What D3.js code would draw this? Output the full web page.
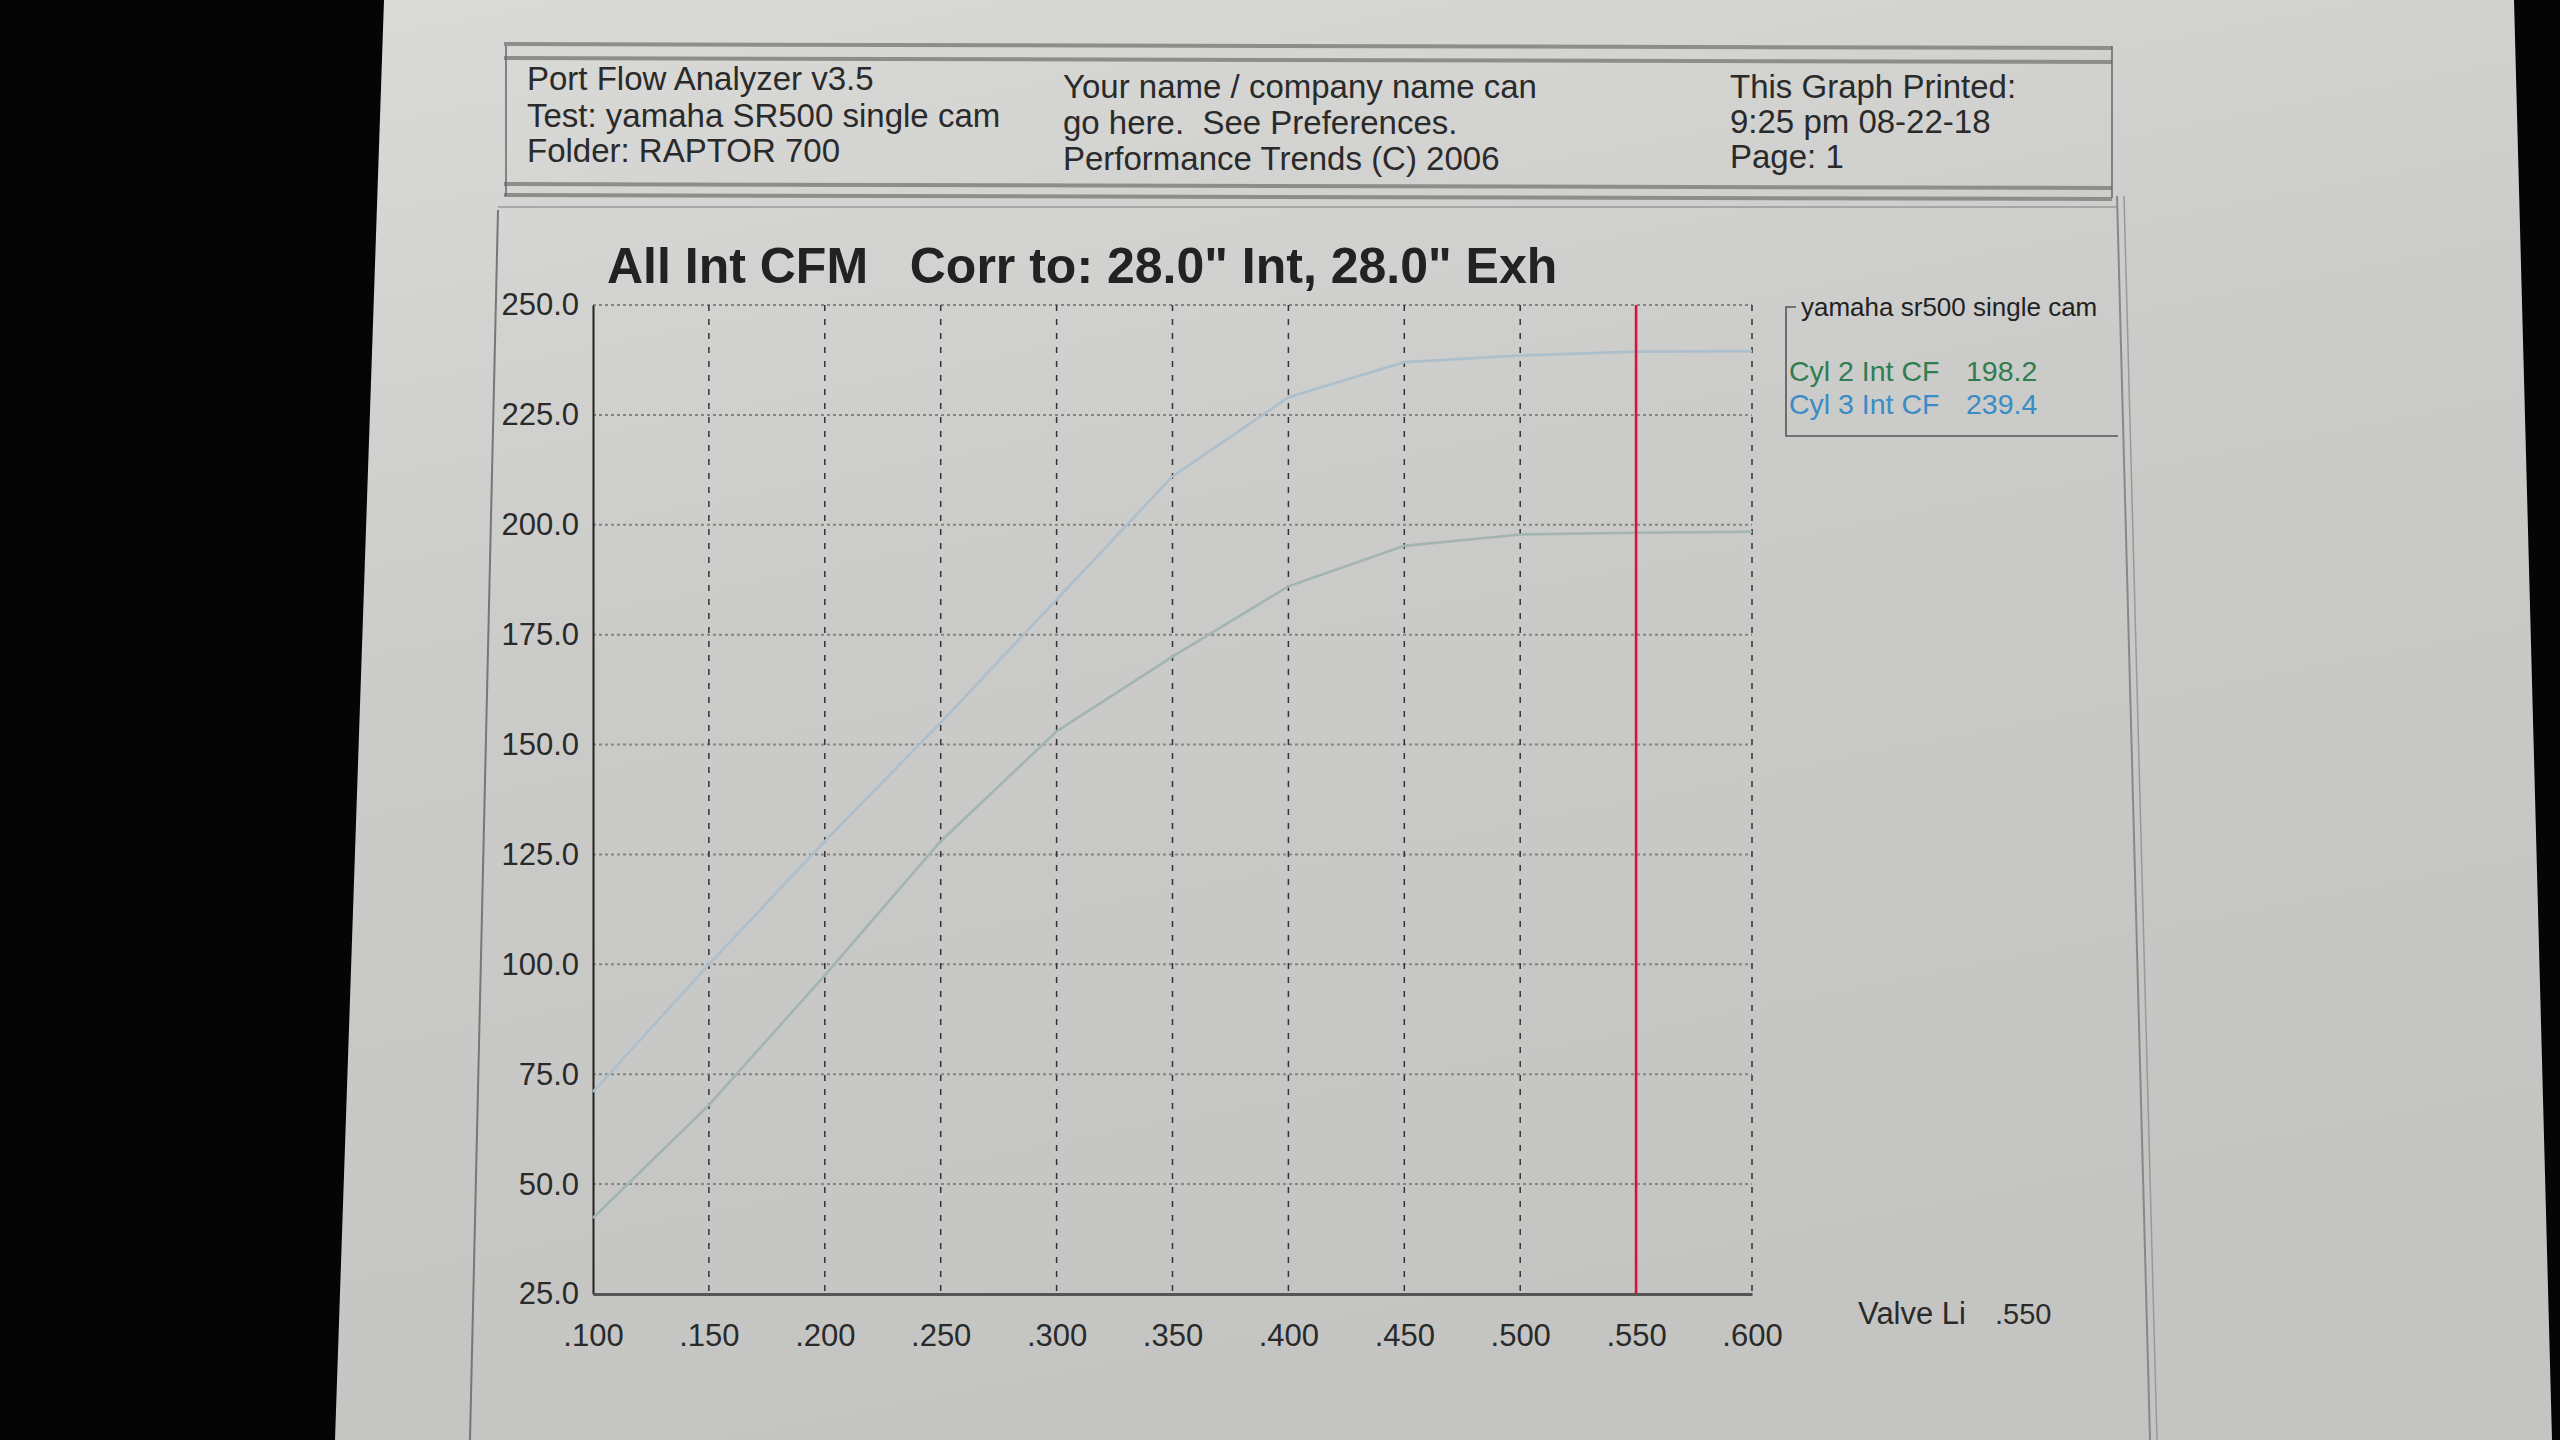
<!DOCTYPE html>
<html><head><meta charset="utf-8">
<script src="https://cdn.jsdelivr.net/npm/d3@7"></script>
<style>html,body{margin:0;padding:0;background:#000;}svg{display:block;}text{white-space:pre;}</style>
</head><body>
<script>
// ---- data ----
const liftValues = [0.100,0.150,0.200,0.250,0.300,0.350,0.400,0.450,0.500,0.550,0.600];
const cyl2Flow   = [42.3, 68.0, 97.5, 128.0, 153.0, 170.0, 186.0, 195.2, 197.8, 198.2, 198.4];
const cyl3Flow   = [71.0, 100.0, 128.0, 155.0, 183.0, 211.0, 229.0, 237.0, 238.5, 239.4, 239.5];
const yTickValues = [25,50,75,100,125,150,175,200,225,250];
const xTickValues = [0.100,0.150,0.200,0.250,0.300,0.350,0.400,0.450,0.500,0.550,0.600];
const seriesNames = ["Cyl 2 Int CF","Cyl 3 Int CF"];
const seriesValuesAtLift = ["198.2","239.4"];
const markerLift = 0.550;
const headerLeft = ["Port Flow Analyzer v3.5","Test: yamaha SR500 single cam","Folder: RAPTOR 700"];
const headerMid = ["Your name / company name can","go here.  See Preferences.","Performance Trends (C) 2006"];
const headerRight = ["This Graph Printed:","9:25 pm 08-22-18","Page: 1"];
const chartTitle = "All Int CFM   Corr to: 28.0\" Int, 28.0\" Exh";
const legendTitle = "yamaha sr500 single cam";

// ---- drawing ----
const W=2560,H=1440;
const svg=d3.select("body").append("svg").attr("width",W).attr("height",H);
const defs=svg.append("defs");
const g1=defs.append("linearGradient").attr("id","paper").attr("x1","0").attr("y1","0").attr("x2","0.3").attr("y2","1");
g1.append("stop").attr("offset","0").attr("stop-color","#dadad8");
g1.append("stop").attr("offset","0.45").attr("stop-color","#cbcbc9");
g1.append("stop").attr("offset","1").attr("stop-color","#c4c4c2");
svg.append("rect").attr("width",W).attr("height",H).attr("fill","#050505");
svg.append("path").attr("d","M384,0 L2514,0 L2552,1440 L335,1440 Z").attr("fill","url(#paper)");

const font="'Liberation Sans', Arial, sans-serif";
const ink="#2a2a2a";

// header box
const hdr=svg.append("g");
[[44],[58],[184],[195]].forEach(([y])=>{
  hdr.append("line").attr("x1",504).attr("x2",2112).attr("y1",y).attr("y2",y+4)
    .attr("stroke","#8d8d8b").attr("stroke-width",4);
});
hdr.append("line").attr("x1",506).attr("x2",506).attr("y1",46).attr("y2",196).attr("stroke","#666").attr("stroke-width",1.5);
hdr.append("line").attr("x1",2112).attr("x2",2112).attr("y1",46).attr("y2",198).attr("stroke","#666").attr("stroke-width",1.5);
const hdrCols=[[headerLeft,527,[90,127,162]],[headerMid,1063,[98,134,170]],[headerRight,1730,[98,133,168]]];
hdrCols.forEach(([lines,x,ys])=>{
  lines.forEach((t,i)=>hdr.append("text").attr("x",x).attr("y",ys[i]).text(t)
    .attr("font-family",font).attr("font-size",33).attr("fill",ink));
});

// chart frame
svg.append("line").attr("x1",498).attr("x2",470).attr("y1",210).attr("y2",1440).attr("stroke","#777").attr("stroke-width",2);
svg.append("line").attr("x1",2117).attr("x2",2150).attr("y1",196).attr("y2",1440).attr("stroke","#888").attr("stroke-width",2);
svg.append("line").attr("x1",2124).attr("x2",2157).attr("y1",196).attr("y2",1440).attr("stroke","#999").attr("stroke-width",1.5);
svg.append("line").attr("x1",498).attr("x2",2117).attr("y1",207).attr("y2",207).attr("stroke","#999").attr("stroke-width",1.5);

// scales
const x=d3.scaleLinear().domain([0.100,0.600]).range([593,1752]);
const y=d3.scaleLinear().domain([25,250]).range([1294,305]);
const fmtX=d=>d3.format(".3f")(d).replace(/^0/,"");

// grid
const grid=svg.append("g");
grid.selectAll("line.h").data(yTickValues.slice(1)).join("line")
  .attr("x1",x(0.100)).attr("x2",x(0.600)).attr("y1",d=>y(d)).attr("y2",d=>y(d))
  .attr("stroke","#858583").attr("stroke-width",2).attr("stroke-dasharray","3,3");
grid.selectAll("line.v").data(xTickValues.slice(1)).join("line")
  .attr("x1",d=>x(d)).attr("x2",d=>x(d)).attr("y1",y(250)).attr("y2",y(25))
  .attr("stroke","#333").attr("stroke-width",1.5).attr("stroke-dasharray","6,8");

// axes
const yAxis=d3.axisLeft(y).tickValues(yTickValues).tickSize(0).tickPadding(14).tickFormat(d3.format(".1f"));
const ya=svg.append("g").attr("transform",`translate(${x(0.100)},0)`).call(yAxis);
ya.select(".domain").attr("stroke","#222").attr("stroke-width",2);
ya.selectAll("text").attr("font-family",font).attr("font-size",31).attr("fill",ink);
const xAxis=d3.axisBottom(x).tickValues(xTickValues).tickSize(0).tickPadding(30).tickFormat(fmtX);
const xa=svg.append("g").attr("transform",`translate(0,${y(25)})`).call(xAxis);
xa.select(".domain").attr("stroke","#555").attr("stroke-width",3);
xa.selectAll("text").attr("font-family",font).attr("font-size",31).attr("fill",ink);

// data lines
const line=d3.line().x((d,i)=>x(liftValues[i])).y(d=>y(d));
svg.append("path").datum(cyl2Flow).attr("d",line).attr("fill","none")
  .attr("stroke","#a3b5af").attr("stroke-width",2.6);
svg.append("path").datum(cyl3Flow).attr("d",line).attr("fill","none")
  .attr("stroke","#aebfcc").attr("stroke-width",2.6);

// marker line
svg.append("line").attr("x1",x(markerLift)).attr("x2",x(markerLift)).attr("y1",y(250)).attr("y2",y(25))
  .attr("stroke","#d2153c").attr("stroke-width",2.6);

// title
svg.append("text").attr("x",607).attr("y",283).text(chartTitle)
  .attr("font-family",font).attr("font-weight","bold").attr("font-size",50).attr("fill","#222");

// legend
const lg=svg.append("g");
lg.append("path").attr("d","M1796,307 L1786,307 L1786,436 L2118,436").attr("fill","none").attr("stroke","#555").attr("stroke-width",1.6);
lg.append("text").attr("x",1801).attr("y",316).text(legendTitle).attr("font-family",font).attr("font-size",26).attr("fill","#222");
const legColors=["#2f7d50","#3a8cc6"];
seriesNames.forEach((n,i)=>{
  lg.append("text").attr("x",1789).attr("y",381+i*33).text(n).attr("font-family",font).attr("font-size",28.5).attr("fill",legColors[i]);
  lg.append("text").attr("x",1966).attr("y",381+i*33).text(seriesValuesAtLift[i]).attr("font-family",font).attr("font-size",28.5).attr("fill",legColors[i]);
});

// valve lift readout
svg.append("text").attr("x",1858).attr("y",1324).text("Valve Li").attr("font-family",font).attr("font-size",31).attr("fill",ink);
svg.append("text").attr("x",1995).attr("y",1324).text(fmtX(markerLift)).attr("font-family",font).attr("font-size",29).attr("fill",ink);
</script>
</body></html>
